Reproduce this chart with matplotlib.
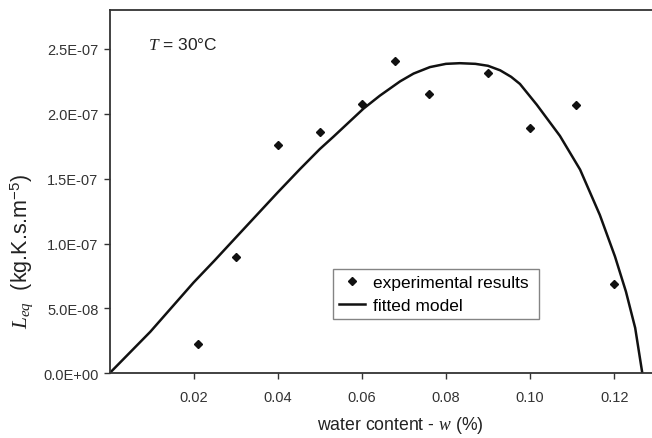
import numpy as np
import matplotlib
matplotlib.use("Agg")
import matplotlib.pyplot as plt
from matplotlib.ticker import FuncFormatter

plt.rcParams['font.family'] = ['Liberation Sans', 'DejaVu Sans']
plt.rcParams['mathtext.fontset'] = 'custom'
plt.rcParams['mathtext.rm'] = 'Liberation Sans'
plt.rcParams['mathtext.it'] = 'Liberation Serif:italic'

# experimental points
w_exp = [0.021, 0.030, 0.040, 0.050, 0.060, 0.068, 0.076, 0.090, 0.100, 0.111, 0.120]
L_exp = [2.26e-8, 9.0e-8, 1.76e-7, 1.857e-7, 2.077e-7, 2.41e-7, 2.155e-7,
         2.316e-7, 1.892e-7, 2.067e-7, 6.9e-8]

# fitted model
w_fit = [0.0, 0.0097, 0.020, 0.025, 0.030, 0.040, 0.0453, 0.050, 0.0533, 0.0604,
         0.0643, 0.0691, 0.0723, 0.0762, 0.0800, 0.0833, 0.0870, 0.0900, 0.0929,
         0.0955, 0.0976, 0.1016, 0.1071, 0.1119, 0.1166, 0.1202, 0.1228, 0.1250,
         0.1267]
L_fit = [0.0, 3.2e-8, 7.0e-8, 8.7e-8, 1.045e-7, 1.394e-7, 1.574e-7, 1.728e-7,
         1.825e-7, 2.04e-7, 2.14e-7, 2.25e-7, 2.31e-7, 2.36e-7, 2.385e-7,
         2.39e-7, 2.385e-7, 2.37e-7, 2.335e-7, 2.285e-7, 2.23e-7, 2.07e-7,
         1.83e-7, 1.57e-7, 1.22e-7, 9.0e-8, 6.3e-8, 3.5e-8, 0.0]

x_ticks = [0.02, 0.04, 0.06, 0.08, 0.10, 0.12]
y_ticks = [0, 5e-8, 1e-7, 1.5e-7, 2e-7, 2.5e-7]

W, H = 652, 439
fig = plt.figure(figsize=(W / 100, H / 100), dpi=100)
left, bottom, top = 109.5, 374.3, 11
ax = fig.add_axes([left / W, (H - bottom) / H, (W - left) / W, (bottom - top) / H])

ax.plot(w_fit, L_fit, color='#111111', lw=1.8, label='fitted model', zorder=2,
        solid_joinstyle='round')
ax.plot(w_exp, L_exp, linestyle='none', marker='D', ms=4.2, color='#111111',
        label='experimental results', zorder=3)

ax.set_xlim(0, 0.129)
ax.set_ylim(0, 2.8e-7)
ax.set_xticks(x_ticks)
ax.set_yticks(y_ticks)
ax.xaxis.set_major_formatter(FuncFormatter(lambda v, p: '%.2f' % v))
ax.yaxis.set_major_formatter(FuncFormatter(lambda v, p: '%.1E' % v))
ax.tick_params(direction='out', length=4, width=1, colors='#333333',
               labelsize=10.5)
ax.tick_params(axis='x', pad=8)
ax.tick_params(axis='y', pad=4)
for s in ['left', 'bottom', 'top']:
    ax.spines[s].set_linewidth(1.3)
    ax.spines[s].set_color('#333333')
ax.spines['right'].set_visible(False)

ax.set_xlabel('water content - $w$ (%)', fontsize=12.7, color='#222222')
ax.xaxis.set_label_coords((400 - left) / (W - left), -0.112)
ax.set_ylabel('$L_{eq}$  (kg.K.s.m$^{-5}$)', fontsize=15.5, color='#222222')
ax.yaxis.set_label_coords(-0.137, 0.338)

ax.text(148, H - 45, '$T$ = 30°C', transform=None, fontsize=12.5,
        va='center', ha='left', color='#222222')

handles, labels = ax.get_legend_handles_labels()
leg = ax.legend(handles[::-1], labels[::-1], loc='upper left',
                bbox_to_anchor=(0.412, 0.287, 0.38, 0.0), mode='expand',
                fancybox=False, edgecolor='#666666', fontsize=12.5,
                handlelength=1.5, handletextpad=0.45, borderpad=0.35,
                labelspacing=0.45, borderaxespad=0)
leg.get_frame().set_linewidth(1.0)

fig.savefig('out.png', dpi=100)
